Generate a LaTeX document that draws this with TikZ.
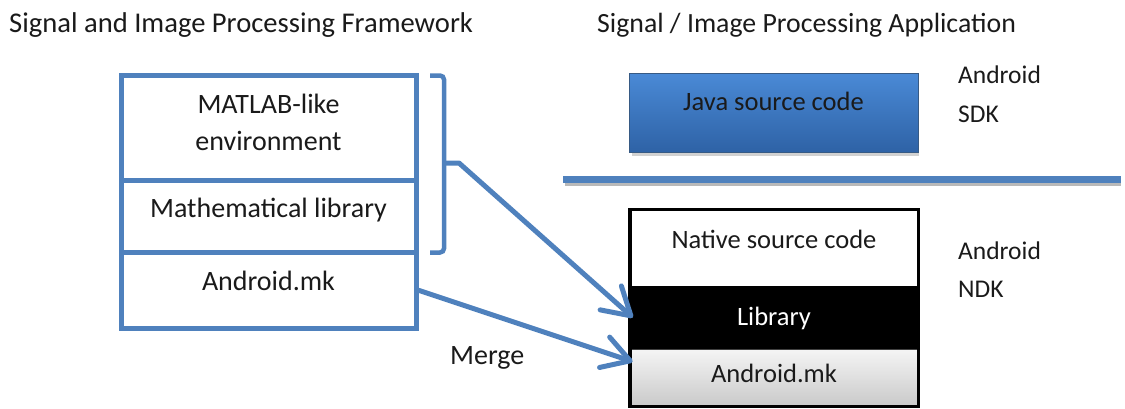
\documentclass[tikz,border=0pt]{standalone}
\usepackage{fontspec}
\setmainfont{Carlito}
\usetikzlibrary{arrows.meta,calc,shadows}
\definecolor{ofblue}{HTML}{4F81BD}
\definecolor{txt}{HTML}{1A1A1A}
\definecolor{javatop}{HTML}{4A8AD6}
\definecolor{javabot}{HTML}{2E62A6}
\tikzset{
  lbl/.style={inner sep=0pt, text=txt, font=\fontsize{26.5}{37}\selectfont},
  lbll/.style={inner sep=0pt, text=txt, font=\fontsize{28}{37}\selectfont},
  side/.style={inner sep=0pt, text=txt, font=\fontsize{25.5}{37}\selectfont},
  ttl/.style={inner sep=0pt, text=txt},
  cell/.style={draw=ofblue, line width=5pt, minimum width=295pt, inner sep=0pt},
  flow/.style={draw=ofblue, line width=5pt, line join=round,
    -{Straight Barb[length=27pt,width=32pt,line cap=round,line join=round]}},
}
\begin{document}
\begin{tikzpicture}[x=1pt,y=-1pt]
\useasboundingbox (0,0) rectangle (1125,408);

% headings
\node[ttl, anchor=base west, font=\fontsize{28.6}{33}\selectfont] (tl) at (9,32) {Signal and Image Processing Framework};
\node[ttl, anchor=base west, font=\fontsize{27.8}{33}\selectfont] (tr) at (597,32) {Signal / Image Processing Application};

% framework stack
\node[cell, minimum height=104.5pt] (env) at (268.5,127.75) {};
\node[cell, minimum height=72.5pt] (math) at (268.5,216.25) {};
\node[cell, minimum height=75.5pt] (amk) at (268.5,290.25) {};
\node[lbll, anchor=base] (envt1) at (268.5,113) {MATLAB-like};
\node[lbll, anchor=base] (envt2) at (268.5,150) {environment};
\node[lbll, anchor=base] (matht) at (268.5,217) {Mathematical library};
\node[lbll, anchor=base] (amkt) at (268.5,290) {Android.mk};

% bracket over the first two layers
\coordinate (bt) at (430,75.5);
\coordinate (bb) at (430,252.5);
\coordinate (brk) at (444,163);
\draw[ofblue, line width=4.5pt, rounded corners=4pt] (bt) -| (bb -| brk) -- (bb);

% SDK part
\fill[gray!60, opacity=0.6] (632,150) rectangle (919,156);
\node[draw=ofblue!70!black, line width=0.6pt, top color=javatop, bottom color=javabot,
      minimum width=289pt, minimum height=79pt, inner sep=0pt] (java) at (773.5,112.5) {};
\node[lbl, anchor=base] (javat) at (773.5,110) {Java source code};
\node[side, anchor=base west] (sdk1) at (958,83) {Android};
\node[side, anchor=base west] (sdk2) at (958,122) {SDK};

% separator
\coordinate (sl) at (563,179);
\coordinate (sr) at (1121,179);
\draw[gray!55, line width=4pt] ($(sl)+(2,5)$) -- ($(sr)+(0,5)$);
\draw[ofblue, line width=7pt] (sl) -- (sr);

% NDK part
\node[fill=white, minimum width=288pt, minimum height=77pt, inner sep=0pt] (nat) at (774,248) {};
\node[fill=black, minimum width=288pt, minimum height=63pt, inner sep=0pt] (lib) at (774,317.5) {};
\node[draw=black!75, line width=0.8pt, top color=gray!8, bottom color=gray!42,
      minimum width=288pt, minimum height=57pt, inner sep=0pt] (mk) at (774,377.5) {};
\draw[black, line width=3.5pt] (nat.north west) rectangle (mk.south east);
\node[lbl, anchor=base] (natt) at (774,248) {Native source code};
\node[lbl, anchor=base, text=white] (libt) at (774,325) {Library};
\node[lbl, anchor=base] (mkt) at (774,382) {Android.mk};
\node[side, anchor=base west] (ndk1) at (958,259) {Android};
\node[side, anchor=base west] (ndk2) at (958,297) {NDK};

% merge arrows
\draw[flow] (brk) -- ++(15,0) -- ($(lib.west)+(3,0)$);
\draw[flow] (amk.east) -- ($(mk.north west)+(3,13)$);
\node[lbll, anchor=base west] (merge) at (450,364) {Merge};
\end{tikzpicture}
\end{document}
